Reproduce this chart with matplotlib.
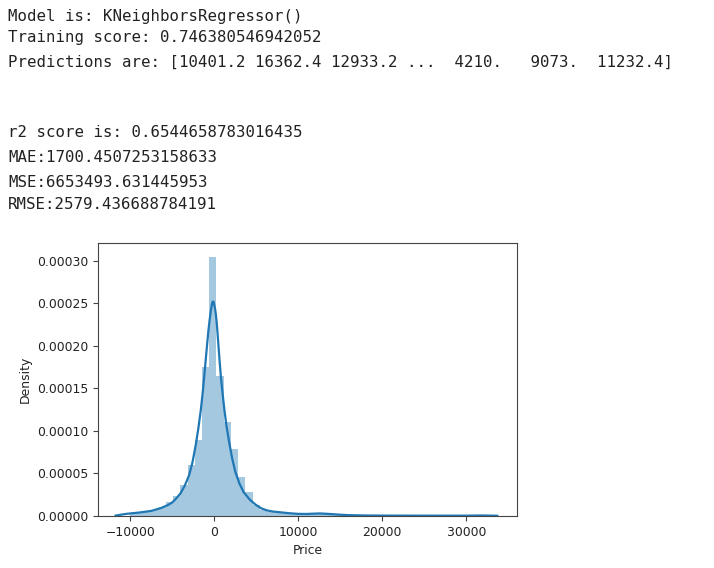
#!/usr/bin/env python3
"""Residual distribution (y_test - predictions) for a KNN regressor, with notebook output above."""
import matplotlib
matplotlib.use("Agg")
import matplotlib.pyplot as plt
from matplotlib.ticker import FormatStrFormatter
import numpy as np

# printed notebook output
output_lines = [
    "Model is: KNeighborsRegressor()",
    "Training score: 0.746380546942052",
    "Predictions are: [10401.2 16362.4 12933.2 ...  4210.   9073.  11232.4]",
    "r2 score is: 0.6544658783016435",
    "MAE:1700.4507253158633",
    "MSE:6653493.631445953",
    "RMSE:2579.436688784191",
]
line_y_px = [21, 42, 67, 137, 162, 187, 209]

# histogram of residuals (density), 50 equal bins
bin_start = -10060
bin_width = 860
hist_density = [
    3.0e-6, 4.0e-6, 5.0e-6, 7.0e-6, 1.0e-5, 1.6e-5, 2.4e-5, 3.7e-5, 6.0e-5, 8.9e-5,
    1.75e-4, 3.05e-4, 1.65e-4, 1.10e-4, 7.9e-5, 4.6e-5, 2.8e-5, 1.3e-5, 7.0e-6, 5.0e-6,
    4.0e-6, 3.0e-6, 2.0e-6, 2.0e-6, 3.0e-6, 3.0e-6, 4.0e-6, 2.0e-6, 2.0e-6, 1.0e-6,
    5.0e-7, 3.0e-7, 2.0e-7, 2.0e-7, 2.0e-7, 1.0e-7, 1.0e-7, 1.0e-7, 1.0e-7, 1.0e-7,
    1.0e-7, 1.0e-7, 1.0e-7, 1.0e-7, 1.0e-7, 2.0e-7, 3.0e-7, 6.0e-7, 1.2e-6, 3.0e-7,
]

# KDE curve
kde_x = [-11750, -10500, -9000, -7500, -6300, -5500, -5000, -4500, -4000, -3500,
         -3000, -2600, -2200, -1900, -1600, -1350, -1100, -900, -700, -550,
         -400, -300, -200, -100, 0, 100, 200, 300, 400, 520, 650, 800,
         1000, 1200, 1450, 1750, 2100, 2500, 3000, 3500, 4200, 4900,
         5600, 6300, 7000, 8000, 9000, 10000, 11000, 12000, 12500, 13200,
         14000, 15000, 16000, 18000, 20000, 25000, 30000, 32000, 33700]
kde_y = [5e-7, 2.5e-6, 4.0e-6, 6.0e-6, 9.5e-6, 1.3e-5, 1.6e-5, 2.1e-5, 2.7e-5, 3.6e-5,
         4.8e-5, 6.3e-5, 8.4e-5, 1.03e-4, 1.25e-4, 1.48e-4, 1.75e-4, 1.97e-4, 2.18e-4, 2.31e-4,
         2.42e-4, 2.48e-4, 2.52e-4, 2.52e-4, 2.48e-4, 2.43e-4, 2.36e-4, 2.26e-4, 2.13e-4, 1.97e-4,
         1.80e-4, 1.62e-4, 1.43e-4, 1.25e-4, 1.06e-4, 8.8e-5, 6.9e-5, 5.2e-5, 3.8e-5, 2.8e-5,
         1.95e-5, 1.35e-5, 9.0e-6, 6.5e-6, 5.2e-6, 4.2e-6, 3.2e-6, 2.5e-6, 2.4e-6, 2.8e-6,
         3.0e-6, 2.7e-6, 2.2e-6, 1.5e-6, 1.0e-6, 6e-7, 5e-7, 4e-7, 4e-7, 6e-7, 3e-7]

xticks = [-10000, 0, 10000, 20000, 30000]
yticks = [0, 0.00005, 0.0001, 0.00015, 0.0002, 0.00025, 0.0003]

W, H = 714, 568
fig = plt.figure(figsize=(W / 100, H / 100), dpi=100)

for txt, y in zip(output_lines, line_y_px):
    fig.text(8 / W, 1 - y / H, txt, family="DejaVu Sans Mono", fontsize=11.3,
             color="#222222", va="baseline", ha="left")

ax = fig.add_axes([98 / W, 1 - 516 / H, (517 - 98) / W, (516 - 243) / H])

edges = bin_start + bin_width * np.arange(len(hist_density) + 1)
ax.bar(edges[:-1], hist_density, width=bin_width, align="edge",
       color="#1f77b4", alpha=0.4, linewidth=0)
ax.plot(kde_x, kde_y, color="#1f77b4", lw=1.6)

ax.set_xlim(-13850, 36050)
ax.set_ylim(0, 0.000321)
ax.set_xticks(xticks)
ax.set_yticks(yticks)
ax.yaxis.set_major_formatter(FormatStrFormatter("%.5f"))
ax.tick_params(labelsize=8.9, colors="#444444", labelcolor="#222222")
for s in ax.spines.values():
    s.set_color("#444444")
ax.set_xlabel("Price", fontsize=8.9, color="#222222")
ax.set_ylabel("Density", fontsize=8.9, color="#222222")

fig.savefig("out.png", dpi=100)
